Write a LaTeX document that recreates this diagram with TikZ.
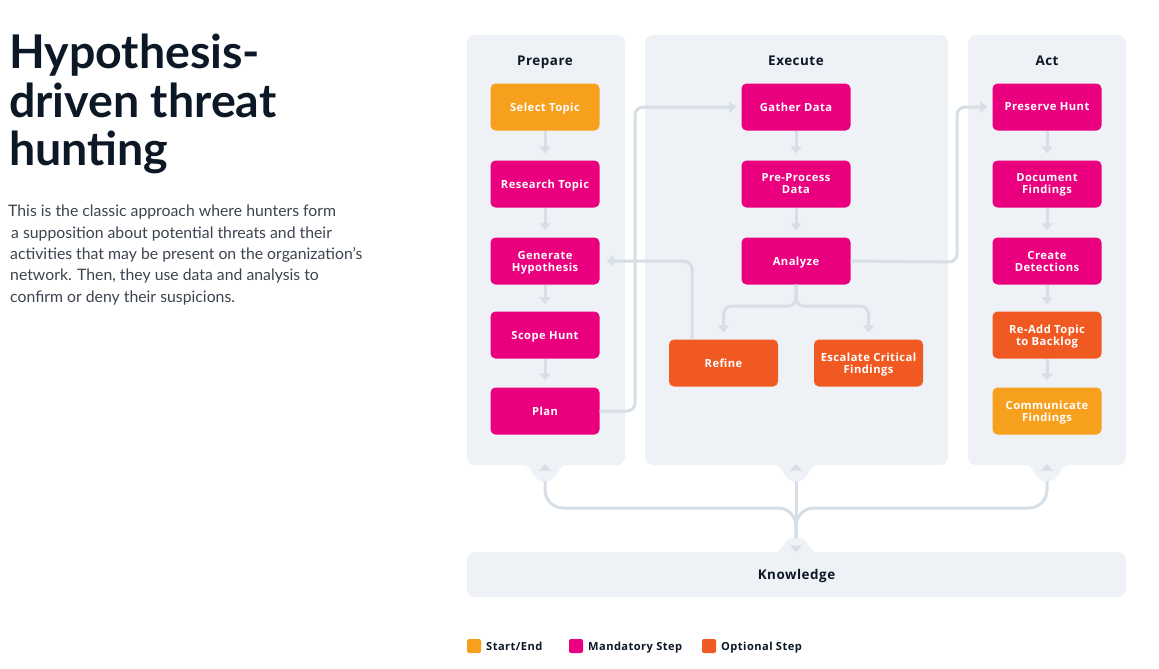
\documentclass[tikz,border=0pt]{standalone}
\usepackage{fontspec}
\setmainfont{Lato}
\newfontfamily\diagramfont[LetterSpace=4]{Open Sans}
\usetikzlibrary{arrows.meta,calc}
\definecolor{panelgray}{RGB}{238,241,246}
\definecolor{linegray}{RGB}{214,222,230}
\definecolor{startorange}{RGB}{247,160,30}
\definecolor{mandpink}{RGB}{234,0,126}
\definecolor{optorange}{RGB}{240,90,34}
\definecolor{inkdark}{RGB}{12,24,38}
\definecolor{textgray}{RGB}{60,68,80}
\tikzstyle{panel}=[fill=panelgray,rounded corners=8pt]
\tikzstyle{box}=[rounded corners=5pt,minimum width=109pt,minimum height=47pt,inner sep=2pt,text depth=0pt,text=white,align=center,font=\diagramfont\bfseries\fontsize{11.2}{12}\selectfont]
\tikzstyle{startbox}=[box,fill=startorange]
\tikzstyle{mandbox}=[box,fill=mandpink]
\tikzstyle{optbox}=[box,fill=optorange]
\tikzstyle{header}=[text=inkdark,text depth=0pt,font=\diagramfont\bfseries\fontsize{13.4}{14}\selectfont]
\tikzstyle{flow}=[-{Triangle[width=11pt,length=7pt]},linegray,line width=3pt,line join=round,rounded corners=8pt,shorten >=7pt]
\tikzstyle{bus}=[linegray,line width=3pt,rounded corners=18pt]
\tikzstyle{legendkey}=[rounded corners=2pt,minimum size=14pt,inner sep=0pt]
\tikzstyle{legendtext}=[anchor=base west,text=inkdark,inner sep=0pt,font=\diagramfont\bfseries\fontsize{11.1}{12}\selectfont]

\begin{document}
\begin{tikzpicture}[x=1pt,y=-1pt]
  \useasboundingbox (0,0) rectangle (1159,669);
  \fill[white] (0,0) rectangle (1159,669);
  \def\colP{545}
  \def\colE{796}
  \def\colA{1047}

  % title and intro text
  \node[anchor=north west,inner sep=0pt,align=left,text=inkdark,
        font=\bfseries\fontsize{46.5}{48.5}\selectfont] (title) at (9,34)
        {Hypothesis-\\driven threat\\hunting};
  \node[anchor=north west,inner sep=0pt,align=left,text=textgray,
        font=\fontsize{15.8}{21.3}\selectfont] (intro) at (8,205)
        {This is the classic approach where hunters form\\
         \hspace*{3pt}a supposition about potential threats and their\\
         \hspace*{2pt}activities that may be present on the organization’s\\
         \hspace*{2pt}network. Then, they use data and analysis to\\
         \hspace*{2pt}confirm or deny their suspicions.};

  % the three phases
  \fill[panel] (467,35) rectangle (625,465);
  \fill[panel] (645,35) rectangle (948,465);
  \fill[panel] (968,35) rectangle (1126,465);
  \foreach \x in {\colP,\colE,\colA} {
    \fill[panelgray] (\x-24,464) .. controls (\x-12,464) and (\x-13,482) .. (\x,482)
      .. controls (\x+13,482) and (\x+12,464) .. (\x+24,464) -- cycle;
    \fill[linegray] (\x-6,470.5) -- (\x,464) -- (\x+6,470.5) -- cycle;
  }
  \node[header] (prepare) at (\colP,61) {Prepare};
  \node[header] (execute) at (\colE,61) {Execute};
  \node[header] (act) at (\colA,61) {Act};

  % knowledge base
  \node[panel,minimum width=659pt,minimum height=45pt,header] (knowledge) at (796.5,574.5) {Knowledge};
  \fill[panelgray] (\colE-24,553) .. controls (\colE-12,553) and (\colE-13,537) .. (\colE,537)
    .. controls (\colE+13,537) and (\colE+12,553) .. (\colE+24,553) -- cycle;
  \fill[linegray] (\colE-6,545.5) -- (\colE,552) -- (\colE+6,545.5) -- cycle;

  % Prepare
  \node[startbox] (select) at (\colP,107) {Select Topic};
  \node[mandbox] (research) at (\colP,184) {Research Topic};
  \node[mandbox] (hypothesis) at (\colP,261) {Generate\\Hypothesis};
  \node[mandbox] (scope) at (\colP,335) {Scope Hunt};
  \node[mandbox] (plan) at (\colP,411) {Plan};

  % Execute
  \node[mandbox] (gather) at (\colE,107) {Gather Data};
  \node[mandbox] (preprocess) at (\colE,184) {Pre-Process\\Data};
  \node[mandbox] (analyze) at (\colE,261) {Analyze};
  \node[optbox] (refine) at (723.5,363) {Refine};
  \node[optbox] (escalate) at (868.5,363) {Escalate Critical\\Findings};

  % Act
  \node[mandbox] (preserve) at (\colA,107) {Preserve Hunt};
  \node[mandbox] (document) at (\colA,184) {Document\\Findings};
  \node[mandbox] (detections) at (\colA,261) {Create\\Detections};
  \node[optbox] (readd) at (\colA,335) {Re-Add Topic\\to Backlog};
  \node[startbox] (communicate) at (\colA,411) {Communicate\\Findings};

  % flow inside the columns
  \foreach \a/\b in {select/research,research/hypothesis,hypothesis/scope,scope/plan,
                     gather/preprocess,preprocess/analyze,
                     preserve/document,document/detections,detections/readd,readd/communicate}
    \draw[flow] (\a) -- (\b);

  % flow between the columns
  \draw[flow,shorten >=5pt] (plan.east) -- (635,411) -- (635,107) -- (gather.west);
  \draw[flow,shorten >=5pt] (analyze.east) -- (957,262) -- (957,107) -- (preserve.west);
  \draw[flow] (analyze.south) -- (\colE,306) -| (refine.north);
  \draw[flow] (analyze.south) -- (\colE,306) -| (escalate.north);
  \draw[flow] (refine.north -| 692,0) -- (692,261) -- (hypothesis.east);

  % everything ends up as knowledge
  \coordinate (bP) at (\colP,481);
  \coordinate (bE) at (\colE,481);
  \coordinate (bA) at (\colA,481);
  \coordinate (kin) at (\colE,538);
  \draw[bus] (bP) |- (\colE,508) -- (kin);
  \draw[bus] (bA) |- (\colE,508) -- (kin);
  \draw[bus] (bE) -- (kin);

  % legend
  \node[legendkey,fill=startorange] (keystart) at (474,646) {};
  \node[legendtext] (labelstart) at (486,650) {Start/End};
  \node[legendkey,fill=mandpink] (keymand) at (576,646) {};
  \node[legendtext] (labelmand) at (588,650) {Mandatory Step};
  \node[legendkey,fill=optorange] (keyopt) at (709,646) {};
  \node[legendtext] (labelopt) at (721,650) {Optional Step};
\end{tikzpicture}
\end{document}
